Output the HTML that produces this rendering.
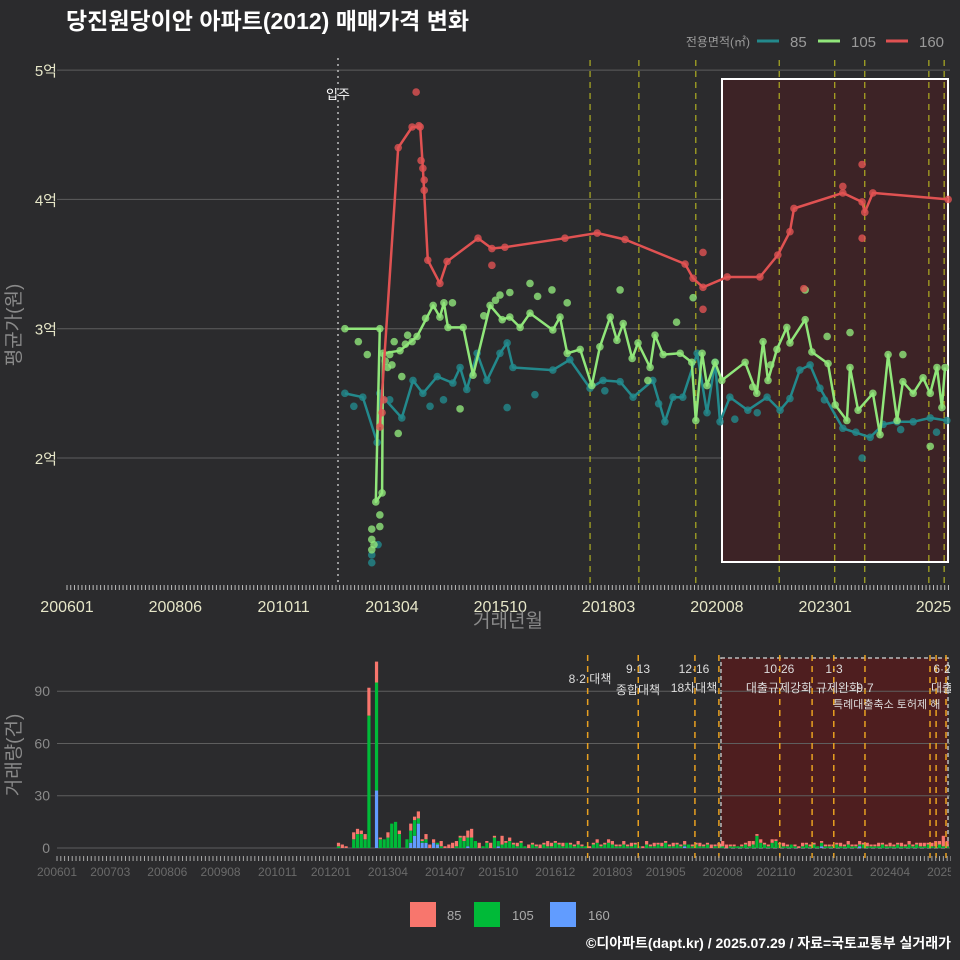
<!DOCTYPE html>
<html><head><meta charset="utf-8">
<style>
html,body{margin:0;padding:0;background:#2b2b2d;}
svg{display:block;font-family:"Liberation Sans","Noto Sans CJK KR",sans-serif;}
</style></head>
<body>
<svg id="chart" width="960" height="960" viewBox="0 0 960 960" xmlns="http://www.w3.org/2000/svg">
<defs><clipPath id="botclip"><rect x="0" y="640" width="951" height="260"/></clipPath></defs>
<rect x="0" y="0" width="960" height="960" fill="#2b2b2d"/>
<text x="66" y="29" fill="#ffffff" font-size="23" font-weight="bold">당진원당이안 아파트(2012) 매매가격 변화</text>
<g>
<text x="750" y="46" fill="#9a9a9a" font-size="12" text-anchor="end">전용면적(㎡)</text>
<line x1="757" y1="41" x2="779" y2="41" stroke="#23898c" stroke-width="3"/>
<text x="790" y="47" fill="#9a9a9a" font-size="15">85</text>
<line x1="818" y1="41" x2="840" y2="41" stroke="#90e67a" stroke-width="3"/>
<text x="851" y="47" fill="#9a9a9a" font-size="15">105</text>
<line x1="886" y1="41" x2="908" y2="41" stroke="#e05252" stroke-width="3"/>
<text x="919" y="47" fill="#9a9a9a" font-size="15">160</text>
</g>
<g id="topPanel"></g>
<g id="botPanel" clip-path="url(#botclip)"></g>
<g>
<rect x="410" y="902" width="26" height="25" fill="#f8766d"/>
<text x="447" y="920" fill="#aaaaaa" font-size="13">85</text>
<rect x="474" y="902" width="26" height="25" fill="#00ba38"/>
<text x="512" y="920" fill="#aaaaaa" font-size="13">105</text>
<rect x="550" y="902" width="26" height="25" fill="#619cff"/>
<text x="588" y="920" fill="#aaaaaa" font-size="13">160</text>
</g>
<text x="951" y="948" fill="#ffffff" font-size="14" font-weight="bold" text-anchor="end">©디아파트(dapt.kr) / 2025.07.29 / 자료=국토교통부 실거래가</text>
</svg>
<script>
// ---- price data (year as decimal, value in 억) ----
const redT = [2012.98,2013.39,2013.70,2013.88,2013.94,2014.05,2014.32,2014.48,2015.17,2015.48,2015.77,2017.11,2017.83,2018.45,2019.79,2019.97,2020.19,2020.73,2021.46,2021.86,2022.13,2022.22,2023.31,2023.74,2023.80,2023.98,2025.66];
const redV = [2.24,4.40,4.56,4.56,4.24,3.53,3.35,3.52,3.70,3.62,3.63,3.70,3.74,3.69,3.50,3.39,3.32,3.40,3.40,3.57,3.75,3.93,4.05,3.98,3.90,4.05,4.00];
const redXT = [2013.79,2013.97,2013.97,2013.07,2013.03,2015.48,2020.19,2020.19,2023.74,2023.74,2023.31,2022.44,2013.85,2013.90];
const redXV = [4.83,4.15,4.07,2.45,2.35,3.49,3.59,3.15,4.27,3.70,4.10,3.31,4.57,4.30];
const grnT = [2012.20,2012.98,2012.89,2013.03,2013.05,2013.43,2013.81,2014.17,2014.32,2014.41,2014.50,2014.84,2015.06,2015.44,2015.71,2015.88,2016.11,2016.33,2016.84,2017.00,2017.16,2017.45,2017.71,2017.89,2018.12,2018.27,2018.41,2018.61,2018.74,2019.01,2019.12,2019.30,2019.68,2019.94,2020.03,2020.17,2020.28,2020.46,2020.61,2021.13,2021.39,2021.53,2021.64,2021.84,2022.06,2022.13,2022.47,2022.62,2022.98,2023.14,2023.40,2023.47,2023.65,2023.98,2024.14,2024.32,2024.52,2024.65,2024.88,2025.10,2025.26,2025.41,2025.52,2025.59];
const grnV = [3.00,3.00,1.66,1.73,2.81,2.83,2.94,3.18,3.09,3.20,3.01,3.01,2.64,3.18,3.07,3.09,3.01,3.12,2.99,3.09,2.81,2.84,2.56,2.86,3.09,2.91,3.04,2.77,2.89,2.70,2.95,2.80,2.81,2.74,2.29,2.81,2.56,2.74,2.60,2.74,2.50,2.90,2.60,2.84,3.01,2.89,3.07,2.82,2.73,2.41,2.29,2.70,2.37,2.50,2.18,2.80,2.29,2.59,2.50,2.62,2.50,2.70,2.39,2.70];
const grnXT = [2012.50,2012.70,2012.80,2012.80,2012.80,2012.85,2012.98,2012.98,2013.10,2013.20,2013.30,2013.55,2013.60,2013.70,2013.39,2013.47,2014.00,2014.60,2014.77,2015.30,2015.66,2015.88,2015.56,2016.33,2016.50,2016.82,2017.16,2018.34,2018.96,2019.60,2019.97,2022.47,2022.96,2023.47,2025.26,2024.65,2021.30,2021.70,2013.15,2013.25];
const grnXV = [2.90,2.80,1.37,1.29,1.45,1.33,1.56,1.47,2.75,2.80,2.90,2.88,2.95,2.90,2.19,2.63,3.08,3.20,2.38,3.10,3.26,3.28,3.22,3.35,3.25,3.30,3.20,3.30,2.60,3.05,3.24,3.30,2.94,2.97,2.09,2.80,2.55,2.72,2.70,2.72];
const tealT = [2012.20,2012.60,2012.92,2012.98,2013.47,2013.72,2013.94,2014.26,2014.61,2014.77,2014.92,2015.15,2015.37,2015.66,2015.82,2015.95,2016.84,2017.22,2017.67,2017.96,2018.34,2018.63,2019.07,2019.34,2019.52,2019.74,2020.06,2020.28,2020.46,2020.57,2020.79,2021.19,2021.62,2021.91,2022.13,2022.35,2022.58,2022.80,2023.31,2023.92,2024.21,2024.52,2024.88,2025.26,2025.63];
const tealV = [2.50,2.47,2.12,2.50,2.31,2.60,2.50,2.63,2.58,2.70,2.53,2.81,2.60,2.81,2.89,2.70,2.68,2.76,2.54,2.60,2.59,2.47,2.60,2.28,2.47,2.47,2.81,2.35,2.74,2.28,2.47,2.37,2.47,2.37,2.46,2.68,2.72,2.54,2.23,2.16,2.26,2.28,2.28,2.31,2.29];
const tealXT = [2012.80,2012.94,2012.80,2012.40,2013.20,2014.10,2014.40,2015.82,2016.44,2023.74,2023.60,2018.00,2019.20,2020.90,2021.40,2022.90,2024.60,2025.40];
const tealXV = [1.25,1.33,1.19,2.40,2.45,2.40,2.45,2.39,2.49,2.00,2.20,2.52,2.42,2.30,2.35,2.45,2.22,2.20];
const yTicks = [2,3,4,5];
const yTickLabels = ["2억","3억","4억","5억"];
const xTopLabels = ["200601","200806","201011","201304","201510","201803","202008","202301","2025"];
const xTopMonths = [0,29,58,87,116,145,174,203,232];
const topEvents = [2017.67,2018.76,2020.03,2021.89,2023.13,2023.80,2025.23,2025.57];

// ---- volume data (monthly from 2012-01) ----
const barStart = 72; // months since 2006-01
const c85 = [0,0,2,2,1,0,4,3,2,3,16,0, 12,1,0,3,0,0,2,0,0,4,2,4, 1,3,2,2,0,3,1,2,3,3,1,3, 4,5,0,3,0,1,3,1,0,5,1,2, 1,2,1,0,2,1,1,2,1,3,2,1, 1,2,0,1,1,2,1,0,1,1,2,1, 1,2,2,1,1,2,1,2,1,0,1,2, 1,2,1,2,1,1,2,1,1,2,0,1, 1,2,1,1,2,1,2,3,2,1,1,0, 1,1,3,2,1,2,1,1,2,1,1,2, 1,0,1,1,2,1,1,1,0,1,1,1, 1,1,2,1,2,1,1,2,1,2,1,1, 2,1,1,2,1,1,2,1,2,1,1,2, 2,1,2,3,2,6,3];
const c105 = [0,0,1,0,0,0,5,8,8,5,76,0, 62,5,5,6,14,15,8,0,5,7,9,3, 1,2,0,0,1,1,0,0,0,1,6,4, 5,6,4,0,1,3,0,6,3,2,3,4, 2,1,3,1,0,2,1,0,2,1,1,3, 2,1,3,2,1,2,1,1,0,2,3,1, 2,3,2,1,1,2,1,1,2,1,0,2, 1,1,2,1,3,1,1,2,1,1,2,1, 2,1,1,2,0,1,1,1,0,1,1,1, 1,2,1,2,7,3,2,1,3,4,2,1, 1,2,1,0,1,2,1,2,1,2,1,1, 1,2,1,1,2,1,1,1,2,1,1,1, 1,2,1,1,1,2,1,1,2,1,2,1, 1,2,1,1,2,1,1];
const c160 = [0,0,0,0,0,0,0,0,0,0,0,0, 33,0,0,0,0,0,0,0,0,3,7,14, 3,3,0,3,2,0,0,0,0,0,0,0, 1,0,0,0,0,0,0,0,1,0,0,0, 0,0,0,0,0,0,0,0,0,0,0,0, 0,0,0,0,0,0,0,0,0,0,0,0, 0,0,0,0,0,0,0,0,0,0,0,0, 0,0,0,0,0,0,0,0,0,1,0,0, 0,0,0,0,0,0,0,0,0,0,0,0, 0,0,0,0,0,0,0,0,0,0,0,0, 0,0,0,0,0,0,0,0,0,1,0,0, 0,0,0,0,0,0,0,1,0,0,0,0, 0,0,0,0,0,0,0,0,0,0,0,0, 0,0,0,0,0,0,0];
const vTicks = [0,30,60,90];
const xBotLabels = ["200601","200703","200806","200908","201011","201201","201304","201407","201510","201612","201803","201905","202008","202110","202301","202404","202507"];
const xBotMonths = [0,14,29,43,58,72,87,102,116,131,146,160,175,189,204,219,234];
const botEvents = [139.5,152.8,167.7,174,190,198.5,204.2,212.4,229.5,231.1,233.7];

const NS = "http://www.w3.org/2000/svg";
function mk(parent, tag, attrs, text){ const e=document.createElementNS(NS,tag); for(const k in attrs) e.setAttribute(k,attrs[k]); if(text!==undefined) e.textContent=text; parent.appendChild(e); return e; }
const xT = yr => 67 + (yr-2006)*44.82;
const yT = v => 458 - (v-2)*129.3;
const xB = m => 57 + m*3.804;
const yB = c => 848 - c*1.742;

const topG = document.getElementById('topPanel');
yTicks.forEach((t,i)=>{
  const g = mk(topG,'line',{x1:57,x2:950,y1:yT(t),y2:yT(t),stroke:'#5e5e5e','stroke-width':1});
  
  
  const l = mk(topG,'text',{x:57,y:yT(t)+6,fill:'#e6e6c8','font-size':15,'text-anchor':'end'},yTickLabels[i]);
  
  
});
const sh = mk(topG,'rect',{x:722,y:79,width:226,height:483,fill:'#3d2326',stroke:'#ffffff','stroke-width':2});


topEvents.forEach(e=>{
  const l = mk(topG,'line',{x1:xT(e),x2:xT(e),y1:60,y2:585,stroke:'#c8c820','stroke-width':1,'stroke-dasharray':'6,5'});
  
  
});
const mv = mk(topG,'line',{x1:338,x2:338,y1:58,y2:585,stroke:'#bbbbbb','stroke-width':1.5,'stroke-dasharray':'2,4'});


const mvt = mk(topG,'text',{x:338,y:99,fill:'#ffffff','font-size':13,'text-anchor':'middle'},'입주');


for(let m=0;m<=236;m++){
  const t = mk(topG,'line',{x1:67+m*3.735,x2:67+m*3.735,y1:585,y2:590,stroke:'#bbbbbb','stroke-width':1});
  
  
}
xTopLabels.forEach((s,i)=>{
  const t = mk(topG,'text',{x:67+xTopMonths[i]*3.735,y:612,fill:'#e6e6c8','font-size':16,'text-anchor':'middle'},s);
  
  
});
const xt = mk(topG,'text',{x:508,y:627,fill:'#8a8a8a','font-size':19,'text-anchor':'middle'},'거래년월');


const yt = mk(topG,'text',{x:0,y:0,fill:'#8a8a8a','font-size':19,'text-anchor':'middle',transform:'translate(20,325) rotate(-90)'},'평균가(원)');



function series(T,V,XT,XV,color,name){
  const g = mk(topG,'g',{});
  
  
  const allT = T.concat(XT), allV = V.concat(XV);
  allT.forEach((t,i)=>{
    const c = mk(g,'circle',{cx:xT(t),cy:yT(allV[i]),r:3.8,fill:color,'fill-opacity':0.8});
    
    
  });
  const p = mk(g,'polyline',{points:T.map((t,i)=>xT(t).toFixed(1)+','+yT(V[i]).toFixed(1)).join(' '),fill:'none',stroke:color,'stroke-width':2.5,'stroke-linejoin':'round'});
  
  
}
series(tealT,tealV,tealXT,tealXV,'#23898c','85');
series(grnT,grnV,grnXT,grnXV,'#90e67a','105');
series(redT,redV,redXT,redXV,'#e05252','160');

const botG = document.getElementById('botPanel');
const bsh = mk(botG,'rect',{x:721,y:658,width:227,height:190,fill:'#4e1e1f',stroke:'#bbbbbb','stroke-width':1.5,'stroke-dasharray':'4,3'});


vTicks.forEach(t=>{
  const g = mk(botG,'line',{x1:57,x2:950,y1:yB(t),y2:yB(t),stroke:'#5e5e5e','stroke-width':1});
  
  
  const l = mk(botG,'text',{x:50,y:yB(t)+5,fill:'#8a8a8a','font-size':14,'text-anchor':'end'},String(t));
  
  
});
c85.forEach((v,i)=>{
  const m = barStart+i, x = xB(m)-1.6;
  let base = 0;
  [[c160[i],'#619cff','160'],[c105[i],'#00ba38','105'],[v,'#f8766d','85']].forEach(s=>{
    if(s[0]>0){
      const r = mk(botG,'rect',{x:x,y:yB(base+s[0]),width:3.2,height:s[0]*1.742,fill:s[1]});
      
      
      base += s[0];
    }
  });
});
botEvents.forEach(e=>{
  const l = mk(botG,'line',{x1:xB(e),x2:xB(e),y1:655,y2:858,stroke:'#e8a020','stroke-width':1.5,'stroke-dasharray':'6,5'});
  
  
});
for(let m=0;m<=236;m++){
  const t = mk(botG,'line',{x1:xB(m),x2:xB(m),y1:856,y2:861,stroke:'#aaaaaa','stroke-width':1});
  
  
}
xBotLabels.forEach((s,i)=>{
  const t = mk(botG,'text',{x:xB(xBotMonths[i]),y:876,fill:'#6a6a6a','font-size':12,'text-anchor':'middle'},s);
  
  
});
const vt = mk(botG,'text',{x:0,y:0,fill:'#8a8a8a','font-size':19,'text-anchor':'middle',transform:'translate(20,755) rotate(-90)'},'거래량(건)');


const notes = [[590,683,'8·2 대책','middle'],[638,673,'9·13','middle'],[638,694,'종합대책','middle'],[694,673,'12·16','middle'],[694,692,'18차대책','middle'],[779,673,'10·26','middle'],[779,692,'대출규제강화','middle'],[834,673,'1·3','middle'],[838,692,'규제완화','middle'],[865,692,'9·7','middle'],[833,708,'특례대출축소 토허제 해','start'],[942,673,'6·2','middle'],[942,692,'대출','middle']];
notes.forEach(n=>{
  const t = mk(botG,'text',{x:n[0],y:n[1],fill:'#dddddd','font-size':n[2].length>8?11:12,'text-anchor':n[3]},n[2]);
  
  
});
</script>
</body></html>
